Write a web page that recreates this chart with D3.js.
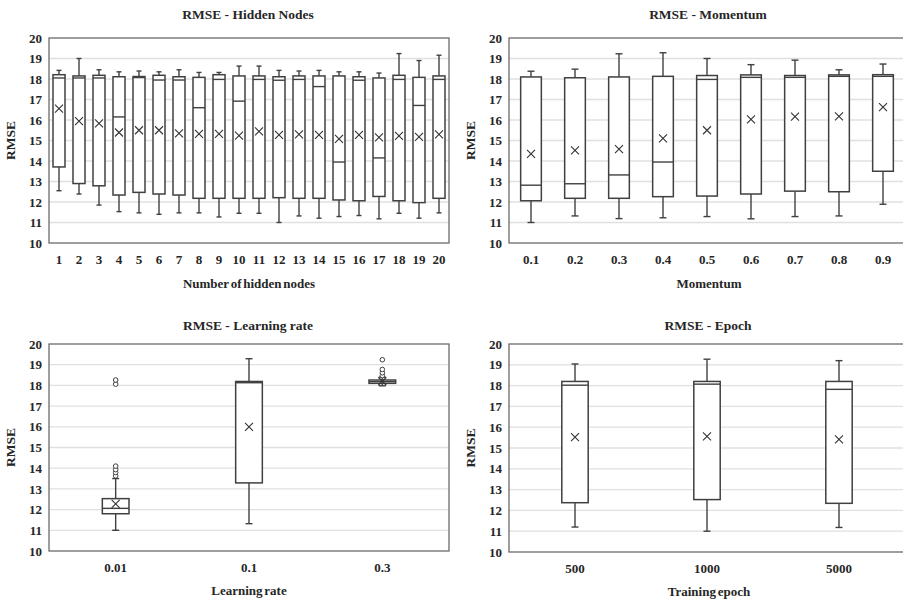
<!DOCTYPE html>
<html>

<head>
    <meta charset="utf-8">
    <style>
        body {
            margin: 0;
            background: #fff;
        }

        svg {
            font-family: 'Liberation Serif', 'DejaVu Serif', serif;
            font-weight: bold;
        }

        .grid line {
            stroke: #e0e0e0;
            stroke-width: 1.3;
        }
    </style>
</head>

<body>
    <svg width="903" height="602"></svg>

    <script src="https://d3js.org/d3.v7.min.js"></script>

    <script>
        // box stats per category: [min, q1, median, q3, max, mean]
        let hiddenNodes = ["1", "2", "3", "4", "5", "6", "7", "8", "9", "10",
            "11", "12", "13", "14", "15", "16", "17", "18", "19", "20"]
        let hiddenStats = [
            [12.55, 13.71, 18.05, 18.21, 18.42, 16.56],
            [12.39, 12.90, 18.05, 18.15, 19.00, 15.95],
            [11.85, 12.79, 18.05, 18.18, 18.45, 15.84],
            [11.53, 12.34, 16.15, 18.11, 18.35, 15.39],
            [11.47, 12.47, 18.07, 18.12, 18.39, 15.50],
            [11.40, 12.39, 17.95, 18.18, 18.35, 15.50],
            [11.47, 12.34, 17.95, 18.11, 18.45, 15.35],
            [11.47, 12.18, 16.60, 18.08, 18.32, 15.32],
            [11.27, 12.18, 17.98, 18.21, 18.32, 15.32],
            [11.45, 12.18, 16.92, 18.15, 18.63, 15.24],
            [11.45, 12.18, 17.98, 18.15, 18.63, 15.45],
            [11.00, 12.21, 17.94, 18.11, 18.42, 15.27],
            [11.32, 12.18, 17.98, 18.15, 18.39, 15.30],
            [11.21, 12.18, 17.63, 18.15, 18.42, 15.27],
            [11.29, 12.10, 13.95, 18.15, 18.35, 15.08],
            [11.34, 12.06, 17.94, 18.11, 18.35, 15.27],
            [11.18, 12.27, 14.15, 18.05, 18.29, 15.15],
            [11.45, 12.06, 17.98, 18.18, 19.24, 15.23],
            [11.21, 11.97, 16.71, 18.08, 18.90, 15.18],
            [11.47, 12.18, 17.98, 18.15, 19.16, 15.30]
        ]

        let momentum = ["0.1", "0.2", "0.3", "0.4", "0.5", "0.6", "0.7", "0.8", "0.9"]
        let momentumStats = [
            [11.00, 12.06, 12.82, 18.10, 18.38, 14.35],
            [11.32, 12.18, 12.89, 18.06, 18.48, 14.52],
            [11.19, 12.18, 13.32, 18.10, 19.23, 14.58],
            [11.23, 12.26, 13.95, 18.13, 19.28, 15.10],
            [11.29, 12.29, 17.98, 18.17, 19.00, 15.50],
            [11.18, 12.39, 18.08, 18.20, 18.70, 16.03],
            [11.29, 12.53, 18.08, 18.17, 18.92, 16.17],
            [11.32, 12.50, 18.13, 18.20, 18.45, 16.18],
            [11.89, 13.50, 18.13, 18.21, 18.73, 16.63]
        ]

        let learningRate = ["0.01", "0.1", "0.3"]
        let learningStats = [
            [11.00, 11.80, 12.06, 12.53, 13.50, 12.28],
            [11.32, 13.29, 18.13, 18.19, 19.29, 16.00],
            [17.98, 18.10, 18.18, 18.26, 18.40, 18.20]
        ]
        // outliers: [category index, value]
        let learningOutliers = [
            [0, 13.63], [0, 13.79], [0, 13.93], [0, 14.10], [0, 18.06], [0, 18.26],
            [2, 18.47], [2, 18.61], [2, 18.77], [2, 19.24]
        ]

        let epochs = ["500", "1000", "5000"]
        let epochStats = [
            [11.20, 12.37, 18.02, 18.20, 19.04, 15.52],
            [11.00, 12.52, 18.07, 18.20, 19.27, 15.56],
            [11.18, 12.34, 17.82, 18.20, 19.20, 15.41]
        ]

        let yTicks = [10, 11, 12, 13, 14, 15, 16, 17, 18, 19, 20]

        let svg = d3.select("svg")
        let font = "'Liberation Serif', 'DejaVu Serif', serif"

        function drawPanel(opt) {
            let g = svg.append("g")

            let x = d3.scaleBand()
                .domain(opt.cats)
                .range([opt.left, opt.right])

            let y = d3.scaleLinear()
                .domain([10, 20])
                .range([opt.bottom, opt.top])

            // gridlines
            g.append("g")
                .attr("class", "grid")
                .selectAll("line")
                .data(yTicks.slice(1, -1))
                .join("line")
                .attr("x1", opt.left)
                .attr("x2", opt.right)
                .attr("y1", d => y(d))
                .attr("y2", d => y(d))

            // frame
            g.append("rect")
                .attr("x", opt.left)
                .attr("y", opt.top)
                .attr("width", opt.right - opt.left)
                .attr("height", opt.bottom - opt.top)
                .style("fill", "none")
                .style("stroke", "#6b6b6b")
                .style("stroke-width", 1.3)

            // y axis labels
            let yAxis = g.append("g")
                .attr("transform", `translate(${opt.left},0)`)
                .call(d3.axisLeft(y).tickValues(yTicks).tickSize(0).tickPadding(7))
                .attr("font-family", font)
            yAxis.select(".domain").remove()
            yAxis.selectAll("text")
                .style("font-family", font)
                .style("font-weight", "bold")
                .style("font-size", "13px")
                .style("fill", "#262626")

            // x axis labels
            let xAxis = g.append("g")
                .attr("transform", `translate(0,${opt.bottom})`)
                .call(d3.axisBottom(x).tickSize(0).tickPadding(opt.xPad))
                .attr("font-family", font)
            xAxis.select(".domain").remove()
            xAxis.selectAll("text")
                .style("font-family", font)
                .style("font-weight", "bold")
                .style("font-size", "13px")
                .style("fill", "#262626")

            // title
            g.append("text")
                .attr("x", opt.left + 199)
                .attr("y", opt.titleY)
                .attr("text-anchor", "middle")
                .style("font-size", "13.5px")
                .style("fill", "#262626")
                .text(opt.title)

            g.append("text")
                .attr("x", opt.left + 200)
                .attr("y", opt.xTitleY)
                .attr("text-anchor", "middle")
                .style("font-size", "13px")
                .style("word-spacing", "-1.5px")
                .style("fill", "#262626")
                .text(opt.xTitle)

            g.append("text")
                .attr("transform", `translate(${opt.left - 34},${(opt.top + opt.bottom) / 2}) rotate(-90)`)
                .attr("text-anchor", "middle")
                .style("font-size", "13.5px")
                .style("fill", "#262626")
                .text("RMSE")

            let bw = x.bandwidth() * opt.boxFrac
            let cap = opt.cap
            let ink = "#404040"

            let boxes = g.selectAll(".box")
                .data(opt.stats)
                .join("g")
                .attr("class", "box")
                .attr("transform", (d, i) => `translate(${x(opt.cats[i]) + x.bandwidth() / 2},0)`)

            // whiskers
            boxes.append("line")
                .attr("y1", d => y(d[0]))
                .attr("y2", d => y(d[1]))
                .style("stroke", ink).style("stroke-width", 1.4)
            boxes.append("line")
                .attr("y1", d => y(d[3]))
                .attr("y2", d => y(d[4]))
                .style("stroke", ink).style("stroke-width", 1.4)
            boxes.append("line")
                .attr("x1", -cap).attr("x2", cap)
                .attr("y1", d => y(d[0])).attr("y2", d => y(d[0]))
                .style("stroke", ink).style("stroke-width", 1.4)
            boxes.append("line")
                .attr("x1", -cap).attr("x2", cap)
                .attr("y1", d => y(d[4])).attr("y2", d => y(d[4]))
                .style("stroke", ink).style("stroke-width", 1.4)

            // box
            boxes.append("rect")
                .attr("x", -bw / 2)
                .attr("width", bw)
                .attr("y", d => y(d[3]))
                .attr("height", d => y(d[1]) - y(d[3]))
                .style("fill", "#fff")
                .style("stroke", ink)
                .style("stroke-width", 1.5)

            // median
            boxes.append("line")
                .attr("x1", -bw / 2).attr("x2", bw / 2)
                .attr("y1", d => y(d[2])).attr("y2", d => y(d[2]))
                .style("stroke", ink).style("stroke-width", 1.4)

            // mean marker
            let m = 4
            boxes.append("path")
                .attr("d", d => `M${-m},${y(d[5]) - m}L${m},${y(d[5]) + m}M${-m},${y(d[5]) + m}L${m},${y(d[5]) - m}`)
                .style("stroke", "#333").style("stroke-width", 1.1)
                .style("fill", "none")

            if (opt.outliers) {
                g.selectAll(".outlier")
                    .data(opt.outliers)
                    .join("circle")
                    .attr("class", "outlier")
                    .attr("cx", d => x(opt.cats[d[0]]) + x.bandwidth() / 2)
                    .attr("cy", d => y(d[1]))
                    .attr("r", 2.3)
                    .style("fill", "#fff")
                    .style("stroke", ink)
                    .style("stroke-width", 1)
            }
        }

        drawPanel({
            cats: hiddenNodes, stats: hiddenStats,
            left: 49, right: 449, top: 38, bottom: 243,
            boxFrac: 0.6, cap: 2.5, xPad: 12,
            title: "RMSE - Hidden Nodes", titleY: 19,
            xTitle: "Number of hidden nodes", xTitleY: 288
        })

        drawPanel({
            cats: momentum, stats: momentumStats,
            left: 509, right: 905, top: 38, bottom: 243,
            boxFrac: 0.47, cap: 3.5, xPad: 12,
            title: "RMSE - Momentum", titleY: 19,
            xTitle: "Momentum", xTitleY: 288
        })

        drawPanel({
            cats: learningRate, stats: learningStats, outliers: learningOutliers,
            left: 49, right: 449, top: 344, bottom: 551,
            boxFrac: 0.2, cap: 3.5, xPad: 12,
            title: "RMSE - Learning rate", titleY: 330,
            xTitle: "Learning rate", xTitleY: 595
        })

        drawPanel({
            cats: epochs, stats: epochStats,
            left: 509, right: 905, top: 344, bottom: 552,
            boxFrac: 0.2, cap: 3.5, xPad: 12,
            title: "RMSE - Epoch", titleY: 330,
            xTitle: "Training epoch", xTitleY: 596
        })
    </script>
</body>

</html>
